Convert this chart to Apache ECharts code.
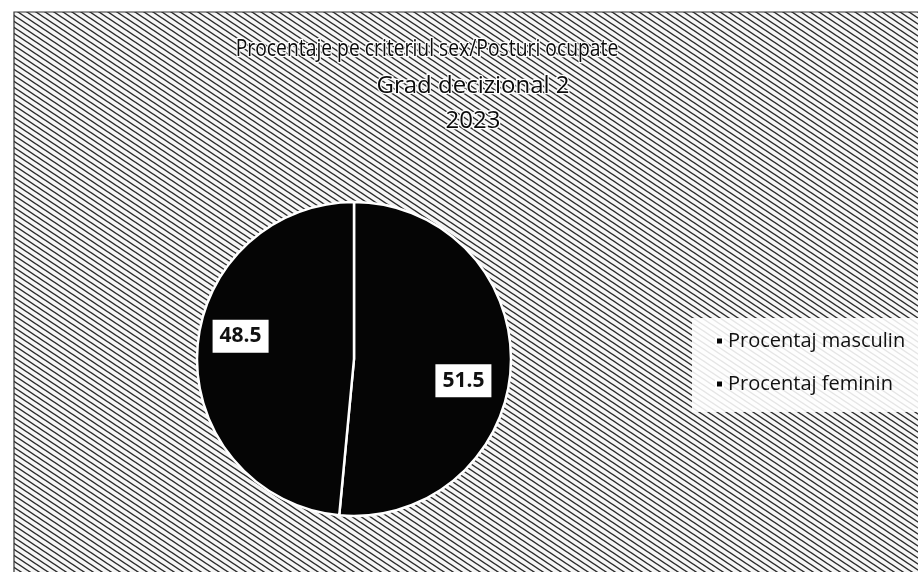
<!DOCTYPE html>
<html>
<head>
<meta charset="utf-8">
<script src="https://cdn.jsdelivr.net/npm/echarts@6/dist/echarts.min.js"></script>
<style>
  html, body { margin: 0; padding: 0; background: #fff; }
  #chart { width: 918px; height: 572px; }
</style>
</head>
<body>
<div id="chart"></div>
<script>
// Share of occupied posts by sex, decision level 2, year 2023
const titleLines = ['Procentaje pe criteriul sex/Posturi ocupate', 'Grad decizional 2', '2023'];
const categories = ['Procentaj masculin', 'Procentaj feminin'];
const values = [51.5, 48.5];

// Diagonal hatch tile used as the plot background
function makeHatch() {
  const W = 9, H = 6;
  const c = document.createElement('canvas');
  c.width = W; c.height = H;
  const ctx = c.getContext('2d');
  ctx.fillStyle = '#f6f6f6';
  ctx.fillRect(0, 0, W, H);
  ctx.strokeStyle = '#2a2a2a';
  ctx.lineWidth = 1.4;
  for (let k = -2; k <= 2; k++) {
    ctx.beginPath();
    ctx.moveTo(k * W - W, -H);
    ctx.lineTo(k * W + 2 * W, 2 * H);
    ctx.stroke();
  }
  return c;
}

const chart = echarts.init(document.getElementById('chart'), null, { renderer: 'canvas' });

const fontFamily = '"Open Sans", "Noto Sans", sans-serif';
const titleStyle = {
  fill: '#0a0a0a',
  stroke: '#fff',
  lineWidth: 2.5,
  align: 'center',
  verticalAlign: 'middle'
};
// centre, vertical position, font size and horizontal squeeze of each title line
const titleLayout = [[427, 49, 23, 0.84], [473, 86, 24, 1], [473, 121, 24, 1]];

const labelShift = [[28, 18], [-32, -19]];

chart.setOption({
  backgroundColor: '#fff',
  animation: false,
  graphic: [
    {
      type: 'rect',
      z: -10,
      shape: { x: 14, y: 12, width: 920, height: 570 },
      style: { fill: { image: makeHatch(), repeat: 'repeat' }, stroke: '#333', lineWidth: 1.2 }
    },
    {
      type: 'rect',
      z: -5,
      shape: { x: 692, y: 318, width: 240, height: 94 },
      style: { fill: 'rgba(255,255,255,0.88)' }
    }
  ].concat(titleLines.map((t, i) => ({
    type: 'text',
    z: 10,
    x: titleLayout[i][0],
    y: titleLayout[i][1],
    scaleX: titleLayout[i][3],
    style: Object.assign({ text: t, font: '500 ' + titleLayout[i][2] + 'px ' + fontFamily }, titleStyle)
  }))),
  legend: {
    orient: 'vertical',
    left: 710,
    top: 326,
    icon: 'rect',
    itemWidth: 7,
    itemHeight: 7,
    itemGap: 23,
    textStyle: { fontSize: 20, color: '#111', fontFamily: fontFamily },
    data: categories
  },
  series: [{
    type: 'pie',
    center: [354, 359],
    radius: 157,
    startAngle: 90,
    clockwise: true,
    avoidLabelOverlap: false,
    data: categories.map((name, i) => ({ name, value: values[i] })),
    itemStyle: { color: '#050505', borderColor: '#fff', borderWidth: 2.5 },
    label: {
      show: true,
      position: 'inside',
      formatter: p => p.value.toFixed(1),
      backgroundColor: '#fff',
      color: '#111',
      fontWeight: 'bold',
      fontSize: 21,
      fontFamily: fontFamily,
      padding: [6, 7, 6, 7]
    },
    labelLayout: p => ({ dx: labelShift[p.dataIndex][0], dy: labelShift[p.dataIndex][1] }),
    labelLine: { show: false },
    emphasis: { disabled: true }
  }]
});
</script>
</body>
</html>
